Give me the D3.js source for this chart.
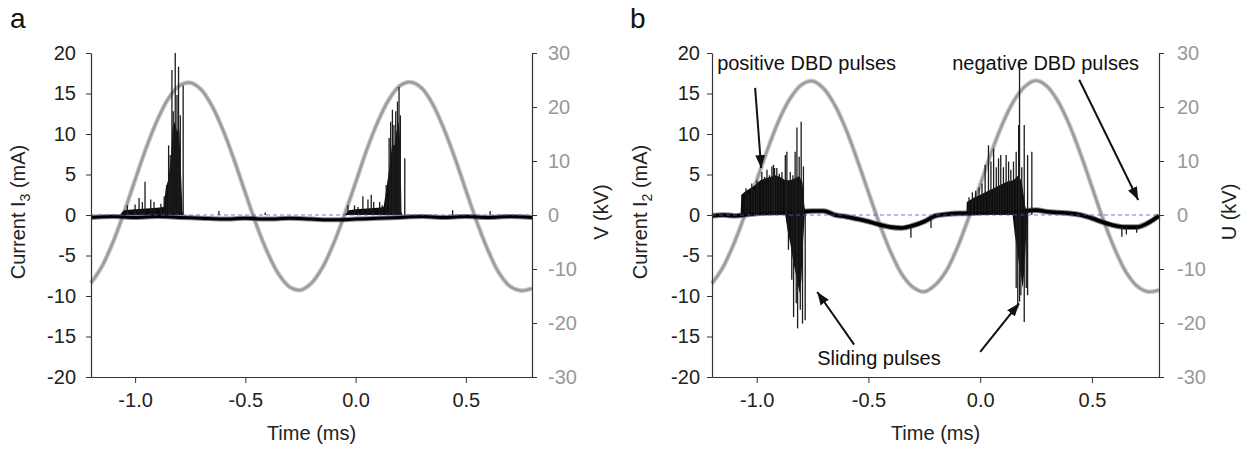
<!DOCTYPE html>
<html lang="en">
<head>
  <meta charset="UTF-8">
  <title>DBD current and voltage</title>
  <style>
    body { margin: 0; background: #fff; }
    svg text { font-family: "Liberation Sans", Arial, sans-serif; }
  </style>
</head>
<body>
  <svg id="chart" width="1245" height="450"></svg>
  <script src="https://cdn.jsdelivr.net/npm/d3@7/dist/d3.min.js"></script>
  <script>
    /******************** data ********************/
    // time grid of the voltage traces, ms
    var timeGrid = [-1.2, -1.15, -1.1, -1.05, -1.0, -0.95, -0.9, -0.85, -0.8, -0.75, -0.7,
      -0.65, -0.6, -0.55, -0.5, -0.45, -0.4, -0.35, -0.3, -0.25, -0.2, -0.15, -0.1, -0.05,
      0, 0.05, 0.1, 0.15, 0.2, 0.25, 0.3, 0.35, 0.4, 0.45, 0.5, 0.55, 0.6, 0.65, 0.7, 0.75, 0.8];
    // applied voltage, kV
    var voltA = [-12.6, -9.5, -5.0, 0.5, 6.5, 12.4, 17.5, 21.5, 23.9, 24.5, 23.2, 20.1, 15.6, 10.1,
      4.1, -1.8, -6.9, -10.9, -13.3, -13.9, -12.6, -9.7, -5.3, 0.1, 6.0, 12.0, 17.2, 21.3, 23.9,
      24.6, 23.5, 20.5, 16.0, 10.6, 4.6, -1.3, -6.5, -10.7, -13.2, -14.0, -13.6];
    var voltB = [-12.7, -9.6, -5.1, 0.4, 6.4, 12.3, 17.6, 21.6, 24.1, 24.8, 23.4, 20.3, 15.8, 10.2,
      4.2, -1.7, -6.9, -11.0, -13.4, -14.2, -12.9, -10.2, -5.8, -0.3, 5.6, 11.6, 16.9, 21.1, 23.8,
      24.9, 23.8, 20.9, 16.6, 11.2, 5.2, -0.8, -6.1, -10.4, -13.1, -14.2, -13.9];

    var timeTicks = [-1.0, -0.5, 0, 0.5];
    var currentTicks = [-20, -15, -10, -5, 0, 5, 10, 15, 20];
    var voltTicks = [-30, -20, -10, 0, 10, 20, 30];

    // panel a: current I3, mA  [time, current]
    var baseA = [[-1.2, -0.3], [-1.1, -0.2], [-1.0, -0.3], [-0.9, -0.2], [-0.8, -0.3], [-0.7, -0.4],
      [-0.6, -0.5], [-0.5, -0.4], [-0.4, -0.5], [-0.3, -0.4], [-0.2, -0.5], [-0.1, -0.6], [0.0, -0.5],
      [0.1, -0.4], [0.2, -0.3], [0.3, -0.2], [0.4, -0.3], [0.5, -0.2], [0.6, -0.3], [0.7, -0.2], [0.8, -0.3]];
    var burstA1 = [[-1.07, 0], [-1.05, 0.6], [-1.0, 0.7], [-0.95, 0.8], [-0.9, 0.9], [-0.87, 1.0],
      [-0.861, 3.3], [-0.848, 4.5], [-0.838, 7.0], [-0.83, 10.7], [-0.82, 11.5], [-0.81, 10.3],
      [-0.8, 10.7], [-0.792, 5.3], [-0.785, 0.4], [-0.78, 0]];
    var burstA2 = [[-0.05, 0], [-0.03, 0.6], [0.0, 0.7], [0.05, 0.8], [0.1, 0.9], [0.127, 1.0],
      [0.142, 3.7], [0.155, 6.2], [0.165, 8.6], [0.177, 8.6], [0.185, 10.3], [0.195, 11.5],
      [0.203, 8.6], [0.208, 0.4], [0.212, 0]];
    // pulses: [time, peak, start level]
    var spikesA = [[-1.035, 1.2], [-1.0, 1.3], [-0.982, 2.1], [-0.967, 1.6], [-0.955, 4.1], [-0.929, 1.9],
      [-0.914, 1.6], [-0.883, 1.4], [-0.868, 2.3], [-0.857, 3.7], [-0.848, 8.6], [-0.841, 7.4],
      [-0.833, 17.9], [-0.827, 12.8], [-0.818, 20.0], [-0.81, 14.8], [-0.803, 18.3], [-0.795, 12.3],
      [-0.782, 16.0], [-0.62, 0.5], [-0.41, 0.3],
      [-0.035, 1.2], [-0.005, 1.2], [0.011, 1.0], [0.033, 2.3], [0.056, 1.9], [0.071, 2.5], [0.082, 1.6],
      [0.109, 1.6], [0.121, 1.2], [0.139, 3.7], [0.152, 9.5], [0.159, 11.5], [0.167, 13.0], [0.174, 11.1],
      [0.182, 12.8], [0.19, 14.0], [0.197, 15.8], [0.203, 12.3], [0.223, 7.0], [0.44, 0.6], [0.61, 0.5]];

    // panel b: current I2, mA  [time, current]
    var baseB = [[-1.2, -0.1], [-1.15, 0.0], [-1.1, -0.1], [-1.0, 0.2], [-0.9, 0.3], [-0.8, 0.4],
      [-0.75, 0.5], [-0.7, 0.5], [-0.65, 0.0], [-0.6, -0.2], [-0.55, -0.5], [-0.5, -0.8], [-0.45, -1.2],
      [-0.4, -1.5], [-0.35, -1.6], [-0.3, -1.3], [-0.25, -0.8], [-0.2, -0.1], [-0.15, 0.1], [-0.1, 0.2],
      [-0.05, 0.2], [0.0, 0.3], [0.1, 0.4], [0.2, 0.5], [0.25, 0.6], [0.3, 0.4], [0.35, 0.3], [0.4, 0.2],
      [0.45, 0.0], [0.5, -0.4], [0.55, -0.9], [0.6, -1.3], [0.65, -1.5], [0.7, -1.5], [0.75, -1.0], [0.8, -0.1]];
    var burstB1 = [[-1.072, 0], [-1.069, 2.5], [-1.051, 2.9], [-1.029, 3.3], [-1.006, 3.7], [-0.984, 4.3],
      [-0.962, 4.5], [-0.94, 4.7], [-0.917, 4.9], [-0.895, 4.7], [-0.872, 4.3], [-0.85, 4.3],
      [-0.83, 4.5], [-0.81, 4.8], [-0.795, 4.0], [-0.787, 1.2], [-0.78, 0]];
    var burstB1neg = [[-0.872, 0], [-0.862, -1.9], [-0.85, -3.5], [-0.835, -6.0], [-0.823, -7.6],
      [-0.808, -9.7], [-0.8, -8.0], [-0.792, -3.0], [-0.785, 0]];
    var burstB2 = [[-0.062, 0], [-0.06, 1.6], [-0.03, 2.1], [0.0, 2.5], [0.03, 2.9], [0.06, 3.3],
      [0.089, 3.7], [0.119, 4.1], [0.149, 4.3], [0.171, 4.9], [0.186, 4.1], [0.201, 1.2], [0.21, 0]];
    var burstB2neg = [[0.145, 0], [0.155, -2.5], [0.165, -4.1], [0.172, -5.8], [0.182, -7.4],
      [0.19, -9.0], [0.197, -7.0], [0.205, -3.0], [0.212, 0]];
    var spikesB = [[-1.048, 3.3], [-1.037, 2.7], [-1.022, 3.9], [-1.01, 3.1], [-0.999, 4.3], [-0.992, 3.7],
      [-0.977, 5.3], [-0.965, 4.7], [-0.954, 5.6], [-0.943, 4.9], [-0.932, 6.0], [-0.925, 6.2], [-0.92, 5.8],
      [-0.91, 5.8], [-0.899, 5.1], [-0.887, 5.3], [-0.872, 7.4], [-0.865, 7.8], [-0.862, 4.1], [-0.85, 5.3],
      [-0.838, 4.9], [-0.828, 7.8], [-0.82, 10.8], [-0.81, 7.2], [-0.801, 11.5], [-0.791, 6.0],
      [-0.858, -4.3], [-0.843, -8.0], [-0.835, -12.6], [-0.823, -10.9], [-0.817, -14.0], [-0.805, -11.7],
      [-0.795, -13.4], [-0.783, -13.0], [-0.31, -2.8, -1.4], [-0.22, -1.6, -0.3],
      [-0.05, 2.2], [-0.035, 2.8], [-0.02, 3.0], [-0.005, 3.4], [0.008, 3.9], [0.022, 6.2], [0.037, 8.6],
      [0.048, 6.6], [0.06, 8.2], [0.072, 5.9], [0.082, 7.0], [0.092, 7.4], [0.104, 5.9], [0.116, 7.4],
      [0.127, 6.6], [0.137, 5.6], [0.149, 6.6], [0.161, 7.8], [0.172, 11.1], [0.176, 19.0], [0.186, 5.9],
      [0.197, 11.1], [0.212, 7.4], [0.231, 7.8],
      [0.161, -9.0], [0.168, -11.5], [0.176, -10.7], [0.182, -9.9], [0.197, -13.2], [0.206, -9.0],
      [0.212, -9.9], [0.634, -2.7, -1.5], [0.654, -2.4, -1.5], [0.7, -2.2, -1.5]];

    /******************** drawing ********************/
    var svg = d3.select('#chart');
    var plotTop = 53, plotBottom = 377;

    svg.append('defs').append('marker')
      .attr('id', 'head')
      .attr('viewBox', '0 0 10 10')
      .attr('refX', 10).attr('refY', 5)
      .attr('markerWidth', 6.5).attr('markerHeight', 6.5)
      .attr('orient', 'auto')
      .append('path')
      .attr('d', 'M0,1.2 L10,5 L0,8.8 Z')
      .attr('fill', '#111');

    function styleAxis(g, size) {
      g.attr('color', '#333')
        .attr('font-size', size)
        .attr('font-family', '"Liberation Sans", Arial, sans-serif');
      g.select('.domain').attr('stroke-width', 1.2);
    }

    function drawPanel(p) {
      var x = d3.scaleLinear().domain([-1.2, 0.8]).range([p.left, p.right]);
      var yI = d3.scaleLinear().domain([-20, 20]).range([plotBottom, plotTop]);
      var yV = d3.scaleLinear().domain([-30, 30]).range([plotBottom, plotTop]);
      var g = svg.append('g');

      // voltage trace (grey)
      var vLine = d3.line().x(d => x(d[0])).y(d => yV(d[1])).curve(d3.curveCatmullRom);
      var vData = d3.zip(timeGrid, p.volt);
      g.append('path').datum(vData).attr('d', vLine)
        .attr('fill', 'none').attr('stroke', '#c4c4c4').attr('stroke-width', 4.5);
      g.append('path').datum(vData).attr('d', vLine)
        .attr('fill', 'none').attr('stroke', '#9a9a9a').attr('stroke-width', 2.2);

      // dense pulse bursts
      var area = d3.area().x(d => x(d[0])).y0(yI(0)).y1(d => yI(d[1]));
      g.selectAll('path.burst').data(p.bursts).enter().append('path')
        .attr('class', 'burst').attr('d', area)
        .attr('fill', '#0d0d0d');

      // baseline of the current
      var iLine = d3.line().x(d => x(d[0])).y(d => yI(d[1])).curve(d3.curveMonotoneX);
      g.append('path').datum(p.base).attr('d', iLine)
        .attr('fill', 'none').attr('stroke', '#222').attr('stroke-opacity', 0.55)
        .attr('stroke-width', p.baseWidth + 2);
      g.append('path').datum(p.base).attr('d', iLine)
        .attr('fill', 'none').attr('stroke', '#000').attr('stroke-width', p.baseWidth);

      // single pulses
      g.selectAll('line.spike').data(p.spikes).enter().append('line')
        .attr('class', 'spike')
        .attr('x1', d => x(d[0])).attr('x2', d => x(d[0]))
        .attr('y1', d => yI(d[2] || 0)).attr('y2', d => yI(d[1]))
        .attr('stroke', '#1c1c1c').attr('stroke-width', 1.3);

      // zero line
      g.append('line')
        .attr('x1', p.left).attr('x2', p.right)
        .attr('y1', yI(0)).attr('y2', yI(0))
        .attr('stroke', '#4a5cc0').attr('stroke-width', 1)
        .attr('stroke-dasharray', '4,3').attr('stroke-opacity', 0.8);

      // axes
      var leftMinor = d3.range(-20, 20.1, 2.5).filter(v => v % 5 !== 0);
      var rightMinor = d3.range(-25, 26, 10);
      var timeMinor = [-0.75, -0.25, 0.25, 0.75];

      var gl = g.append('g').attr('transform', 'translate(' + p.left + ',0)');
      gl.call(d3.axisLeft(yI).tickValues(leftMinor).tickSize(3).tickSizeOuter(0).tickFormat(''));
      gl.call(d3.axisLeft(yI).tickValues(currentTicks).tickSize(5).tickSizeOuter(0)
        .tickPadding(p.leftPad).tickFormat(d => String(d)));
      styleAxis(gl, 20);
      gl.selectAll('text').attr('fill', '#222');

      var gr = g.append('g').attr('transform', 'translate(' + p.right + ',0)');
      gr.call(d3.axisRight(yV).tickValues(rightMinor).tickSize(3).tickSizeOuter(0).tickFormat(''));
      gr.call(d3.axisRight(yV).tickValues(voltTicks).tickSize(5).tickSizeOuter(0)
        .tickPadding(p.rightPad).tickFormat(d => String(d)));
      styleAxis(gr, 20);
      gr.selectAll('text').attr('fill', '#999');

      var gb = g.append('g').attr('transform', 'translate(0,' + plotBottom + ')');
      gb.call(d3.axisBottom(x).tickValues(timeMinor).tickSize(3).tickSizeOuter(0).tickFormat(''));
      gb.call(d3.axisBottom(x).tickValues(timeTicks).tickSize(6).tickSizeOuter(0)
        .tickPadding(10).tickFormat(d => d.toFixed(1)));
      styleAxis(gb, 20);
      gb.selectAll('text').attr('fill', '#222');

      // titles
      g.append('text').attr('x', (p.left + p.right) / 2).attr('y', 440)
        .attr('text-anchor', 'middle').attr('font-size', 20).attr('fill', '#222')
        .text('Time (ms)');

      var yt = g.append('text')
        .attr('transform', 'translate(' + p.yTitleX + ',212) rotate(-90)')
        .attr('text-anchor', 'middle').attr('font-size', 20).attr('fill', '#222');
      yt.append('tspan').text('Current I');
      yt.append('tspan').attr('font-size', 14).attr('dy', 5).text(p.sub);
      yt.append('tspan').attr('dy', -5).text(' (mA)');

      g.append('text')
        .attr('transform', 'translate(' + p.vTitleX + ',212) rotate(-90)')
        .attr('text-anchor', 'middle').attr('font-size', 20).attr('fill', '#222')
        .text(p.vTitle);

      g.append('text').attr('x', p.letterX).attr('y', 28)
        .attr('font-size', 28).attr('fill', '#111').text(p.letter);

      return { x: x, y: yI, g: g };
    }

    drawPanel({
      left: 91, right: 532, leftPad: 10, rightPad: 11, baseWidth: 3,
      volt: voltA, base: baseA, bursts: [burstA1, burstA2], spikes: spikesA,
      sub: '3', vTitle: 'V (kV)', yTitleX: 25, vTitleX: 608, letter: 'a', letterX: 10
    });

    var pb = drawPanel({
      left: 712, right: 1159, leftPad: 7, rightPad: 13, baseWidth: 3.6,
      volt: voltB, base: baseB, bursts: [burstB1, burstB1neg, burstB2, burstB2neg], spikes: spikesB,
      sub: '2', vTitle: 'U (kV)', yTitleX: 647, vTitleX: 1236, letter: 'b', letterX: 630
    });

    // annotations of panel b (data coordinates)
    var arrowsB = [
      [[-1.007, 15.7], [-0.98, 5.8]],
      [[0.443, 16.7], [0.707, 1.85]],
      [[-0.564, -16.0], [-0.729, -9.5]],
      [[0.0, -16.9], [0.174, -10.9]]
    ];
    var labelsB = [
      ['positive DBD pulses', -1.177, 17.9],
      ['negative DBD pulses', -0.125, 17.9],
      ['Sliding pulses', -0.729, -18.5]
    ];

    pb.g.selectAll('line.arrow').data(arrowsB).enter().append('line')
      .attr('class', 'arrow')
      .attr('x1', d => pb.x(d[0][0])).attr('y1', d => pb.y(d[0][1]))
      .attr('x2', d => pb.x(d[1][0])).attr('y2', d => pb.y(d[1][1]))
      .attr('stroke', '#111').attr('stroke-width', 2)
      .attr('marker-end', 'url(#head)');

    pb.g.selectAll('text.note').data(labelsB).enter().append('text')
      .attr('class', 'note')
      .attr('x', d => pb.x(d[1])).attr('y', d => pb.y(d[2]))
      .attr('font-size', 20).attr('fill', '#111')
      .text(d => d[0]);
  </script>
</body>
</html>
